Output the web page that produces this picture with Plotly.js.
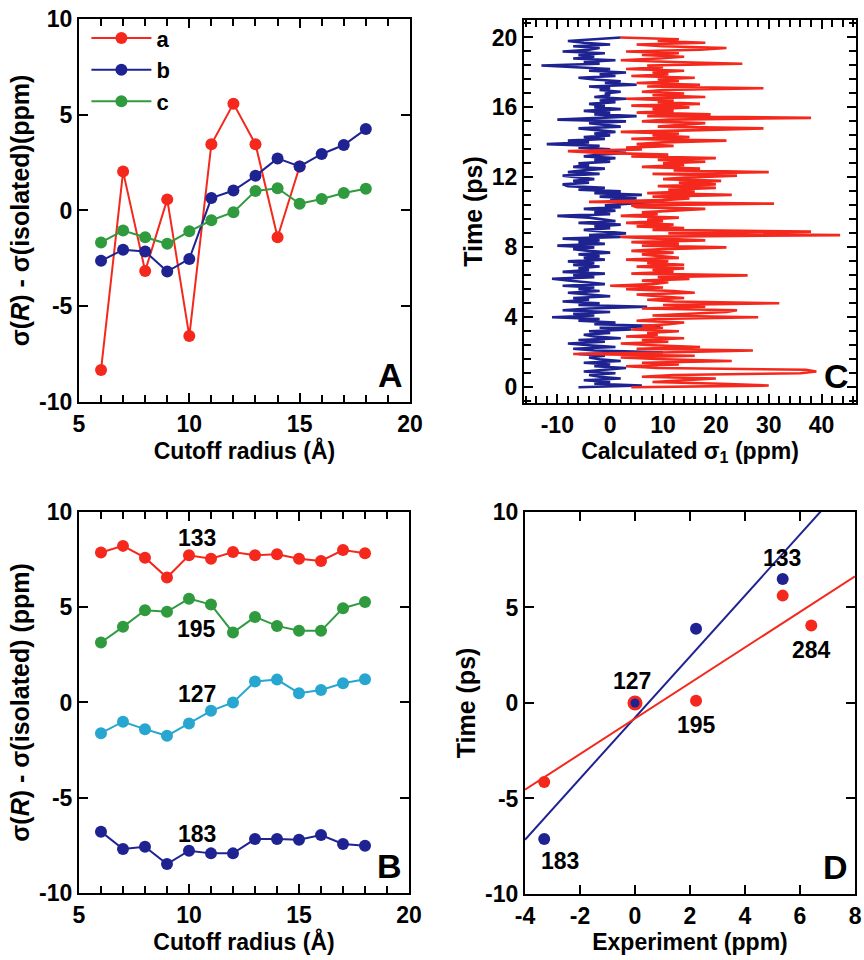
<!DOCTYPE html>
<html>
<head>
<meta charset="utf-8">
<script src="https://cdn.plot.ly/plotly-3.0.1.min.js"></script>
<style>html,body{margin:0;padding:0;background:#fff;}#chart{width:864px;height:960px;}</style>
</head>
<body>
<div id="chart"></div>
<script>
// ---------- Panel A ----------
var radiusA = [6,7,8,9,10,11,12,13,14,15,16,17,18];
var seriesA_a = [-8.33,2.03,-3.16,0.58,-6.56,3.46,5.58,3.46,-1.4,2.3];
var seriesA_b = [-2.63,-2.05,-2.14,-3.19,-2.53,0.65,1.04,1.81,2.72,2.3,2.95,3.42,4.25];
var seriesA_c = [-1.67,-1.05,-1.4,-1.74,-1.09,-0.51,-0.09,1.02,1.16,0.35,0.6,0.91,1.14];
var legendA = ['a','b','c'];

// ---------- Panel B ----------
var radiusB = [6,7,8,9,10,11,12,13,14,15,16,17,18];
var seriesB_133 = [7.87,8.22,7.6,6.56,7.73,7.55,7.9,7.73,7.78,7.55,7.43,8.0,7.83];
var seriesB_195 = [3.15,3.97,4.84,4.76,5.45,5.14,3.67,4.49,4.02,3.76,3.76,4.95,5.28];
var seriesB_127 = [-1.61,-1.01,-1.4,-1.75,-1.1,-0.44,0,1.1,1.2,0.49,0.66,1.01,1.22];
var seriesB_183 = [-6.78,-7.69,-7.57,-8.48,-7.78,-7.92,-7.92,-7.17,-7.17,-7.2,-6.96,-7.43,-7.52];
var labelsB = ['133','195','127','183'];
var labelsB_x = [10.35,10.35,10.35,10.35];
var labelsB_y = [8.65,3.85,0.44,-6.9];

// ---------- Panel C (time series, 0.1 ps steps) ----------
var timeC = [];
for (var i = 0; i <= 200; i++) timeC.push(+(i*0.1).toFixed(1));
var sigmaRed = [
 4,30,21,8,14,20,6,12,36,39,
 37,9,3,13,6,23,10,2,16,-7,
 12,27,5,17,8,2,11,6,14,3,
 9,7,13,4,10,6,11,14,5,9,
 28,8,15,22,24,6,18,10,32,12,
 7,14,9,5,16,12,3,10,0,8,
 11,6,15,9,26,4,12,8,14,5,
 14,7,11,3,13,9,6,12,4,10,
 22,6,13,4,18,9,2,43.5,11,38,
 8,14,5,12,3,10,7,13,2,9,
 6,12,18,5,4,31,-4,10,15,8,
 23,7,16,11,20,9,20,13,21,10,
 15,24,8,30,12,17,6,14,10,18,
 9,20,4,11,-2,-8,6,3,12,5,
 10,22,4,15,8,13,2,17,29,9,
 14,18,6,11,38,7,19,5,12,8,
 15,4,17,9,12,3,18,8,14,6,
 10,29,7,17,5,13,9,16,4,11,
 8,14,3,10,7,25,12,2,9,14,
 6,13,3,17,22,10,5,18,9,13,
 2];
var sigmaBlue = [
 -6,6,-3,0,-5,2,-2,-4,1,-5,
 -1,3,-3,0,-5,2,-2,-4,-1,-6,
 10,-3,-7,1,-4,-8,-1,-6,2,-3,
 -5,0,-4,4,-2,9.5,-3,1,-6,-2,
 -11,-3,-7,0,-9,-4,7,-6,-2,-9,
 -4,-7,0,-5,-8,-2,-6,-3,-9,-1,
 -5,-8,-11,-3,-7,-1,-9,-4,-6,-2,
 -7,-3,-8,-1,-5,-2,-6,0,-4,-7,
 -3,-10,-1,-6,-2,-9,2,-4,3,-1,
 -5,0,-3,2,-6,1,-2,-4,-10,0,
 -3,1,-5,2,-1,4,8,0,5,-2,
 6,-3,2,-6,-1,-8,-9,-4,-7,-3,
 -6,-9,-2,-8,-5,-1,-7,-4,-6,0,
 -3,1,-5,-2,3,-4,0,-6,-2,-12,
 -4,-8,-1,-5,0,-3,1,-2,-6,2,
 -1,-4,3,-10,-2,5,-3,0,-5,2,
 -3,-1,-4,1,-2,3,-3,0,-1,2,
 -2,0,-4,5,-1,2,-3,-6,1,-2,
 3,-4,0,-8,-13,-2,-5,1,-7,-3,
 -6,-1,-9,-4,-2,-7,0,-5,-8,-3,
 2];

// ---------- Panel D ----------
var expBlue = [-3.3,0,2.22,5.37];
var calcBlue = [-7.12,0,3.89,6.49];
var expRed = [-3.3,0,2.22,5.37,6.41];
var calcRed = [-4.14,0,0.12,5.62,4.05];
var fitX = [-4,8];
var fitBlue = [-7.16,12.02];
var fitRed = [-4.54,6.63];
var labelsD = ['133','284','127','195','183'];
var labelsD_x = [5.34,6.41,-0.12,2.22,-2.73];
var labelsD_y = [7.6,2.76,1.13,-1.13,-8.29];

var panelLetters = ['A','B','C','D'];

// ---------- tick labels (plain hyphen minus as in the figure) ----------
var ticksRadius = [5,10,15,20];
var ticksRadiusText = ['5','10','15','20'];
var ticksDelta = [-10,-5,0,5,10];
var ticksDeltaText = ['-10','-5','0','5','10'];
var ticksSigma = [-10,0,10,20,30,40];
var ticksSigmaText = ['-10','0','10','20','30','40'];
var ticksTime = [0,4,8,12,16,20];
var ticksTimeText = ['0','4','8','12','16','20'];
var ticksExp = [-4,-2,0,2,4,6,8];
var ticksExpText = ['-4','-2','0','2','4','6','8'];

// ---------- styles ----------
var RED = '#f4281c', BLUE = '#1e2391', GREEN = '#2f9a3e', CYAN = '#27a6cf';
var FONT = 'Liberation Sans, Arial, Helvetica, sans-serif';
var tickFont = {family: FONT, size: 23, color: '#000', weight: 'bold'};
var xTitleFont = {family: FONT, size: 23, color: '#000', weight: 'bold'};
var yTitleFont = {family: FONT, size: 25, color: '#000', weight: 'bold'};
var labelFont = {family: FONT, size: 23, color: '#000', weight: 'bold'};
var minorTicks = function(d) { return {dtick: d, ticklen: 7, tickwidth: 2, ticks: 'inside', tickcolor: '#000'}; };

function axis(opts) {
  var a = {
    showline: true, linecolor: '#000', linewidth: 2, mirror: 'ticks',
    ticks: 'inside', ticklen: 9, tickwidth: 2, tickcolor: '#000',
    showgrid: false, zeroline: false, tickfont: tickFont,
    fixedrange: true, tickmode: 'array'
  };
  for (var k in opts) a[k] = opts[k];
  return a;
}
// opposite-side axes that repeat the minor ticks (top / right frame)
function mirrorAxis(opts) {
  var a = {
    showline: false, ticks: 'inside', ticklen: 9, tickwidth: 2, tickcolor: '#000',
    showgrid: false, zeroline: false, showticklabels: false, fixedrange: true
  };
  for (var k in opts) a[k] = opts[k];
  return a;
}

var lineMk = function(color, showleg, name, x, y, xa, ya) {
  return {x: x, y: y, xaxis: xa, yaxis: ya, type: 'scatter', mode: 'lines+markers', name: name,
    showlegend: showleg, line: {color: color, width: 2},
    marker: {color: color, size: 12, opacity: 1, line: {width: 0}}};
};

var traces = [
  lineMk(RED, true, legendA[0], radiusA.slice(0, seriesA_a.length), seriesA_a, 'x', 'y'),
  lineMk(BLUE, true, legendA[1], radiusA, seriesA_b, 'x', 'y'),
  lineMk(GREEN, true, legendA[2], radiusA, seriesA_c, 'x', 'y'),
  lineMk(RED, false, '133', radiusB, seriesB_133, 'x3', 'y3'),
  lineMk(GREEN, false, '195', radiusB, seriesB_195, 'x3', 'y3'),
  lineMk(CYAN, false, '127', radiusB, seriesB_127, 'x3', 'y3'),
  lineMk(BLUE, false, '183', radiusB, seriesB_183, 'x3', 'y3'),
  {x: sigmaBlue, y: timeC, xaxis: 'x2', yaxis: 'y2', type: 'scatter', mode: 'lines', showlegend: false,
    line: {color: BLUE, width: 2.6}},
  {x: sigmaRed, y: timeC, xaxis: 'x2', yaxis: 'y2', type: 'scatter', mode: 'lines', showlegend: false,
    line: {color: RED, width: 2.6}},
  {x: fitX, y: fitBlue, xaxis: 'x4', yaxis: 'y4', type: 'scatter', mode: 'lines', showlegend: false,
    line: {color: BLUE, width: 2}},
  {x: fitX, y: fitRed, xaxis: 'x4', yaxis: 'y4', type: 'scatter', mode: 'lines', showlegend: false,
    line: {color: RED, width: 2}},
  {x: expRed, y: calcRed, xaxis: 'x4', yaxis: 'y4', type: 'scatter', mode: 'markers', showlegend: false,
    marker: {color: RED, size: [12, 15, 12, 12, 12], opacity: 1, line: {width: 0}}, cliponaxis: false},
  {x: expBlue, y: calcBlue, xaxis: 'x4', yaxis: 'y4', type: 'scatter', mode: 'markers', showlegend: false,
    marker: {color: BLUE, size: [12, 9, 12, 12], opacity: 1, line: {width: 0}}, cliponaxis: false}
];

var annotations = [];
labelsB.forEach(function(t, i) {
  annotations.push({text: t, x: labelsB_x[i], y: labelsB_y[i], xref: 'x3', yref: 'y3', showarrow: false,
    font: labelFont});
});
labelsD.forEach(function(t, i) {
  annotations.push({text: t, x: labelsD_x[i], y: labelsD_y[i], xref: 'x4', yref: 'y4', showarrow: false,
    font: labelFont});
});
var letterAxes = [['x','y'],['x3','y3'],['x2','y2'],['x4','y4']];
panelLetters.forEach(function(t, i) {
  annotations.push({text: t, x: 0.985, y: 0.015, xref: letterAxes[i][0] + ' domain', yref: letterAxes[i][1] + ' domain',
    xanchor: 'right', yanchor: 'bottom', showarrow: false,
    font: {family: FONT, size: 34, color: '#000', weight: 'bold'}});
});

var layout = {
  width: 864, height: 960,
  margin: {l: 0, r: 0, t: 0, b: 0},
  paper_bgcolor: '#fff', plot_bgcolor: '#fff',
  showlegend: true,
  legend: {x: 0.1, y: 0.982, xanchor: 'left', yanchor: 'top', bgcolor: 'rgba(0,0,0,0)',
    font: {family: FONT, size: 22, color: '#000', weight: 'bold'}, itemwidth: 60, tracegroupgap: 0},
  xaxis: axis({domain: [0.0914, 0.4745], anchor: 'y', range: [5, 20], tickvals: ticksRadius, ticktext: ticksRadiusText,
    minor: minorTicks(1),
    title: {text: 'Cutoff radius (Å)', font: xTitleFont, standoff: 4}}),
  yaxis: axis({domain: [0.5813, 0.9802], anchor: 'x', range: [-10, 10], tickvals: ticksDelta, ticktext: ticksDeltaText,
    title: {text: 'σ(<i>R</i>) - σ(isolated)(ppm)', font: yTitleFont, standoff: 2}}),
  xaxis2: axis({domain: [0.6065, 0.9907], anchor: 'y2', range: [-16.3, 46.5], tickvals: ticksSigma, ticktext: ticksSigmaText,
    minor: minorTicks(2),
    title: {text: 'Calculated σ<sub>1</sub> (ppm)', font: xTitleFont, standoff: 4}}),
  yaxis2: axis({domain: [0.5802, 0.9792], anchor: 'x2', range: [-0.9, 21], tickvals: ticksTime, ticktext: ticksTimeText,
    minor: minorTicks(0.8),
    title: {text: 'Time (ps)', font: yTitleFont, standoff: 2}}),
  xaxis3: axis({domain: [0.0914, 0.4734], anchor: 'y3', range: [5, 20], tickvals: ticksRadius, ticktext: ticksRadiusText,
    minor: minorTicks(1),
    title: {text: 'Cutoff radius (Å)', font: xTitleFont, standoff: 4}}),
  yaxis3: axis({domain: [0.0698, 0.4667], anchor: 'x3', range: [-10, 10], tickvals: ticksDelta, ticktext: ticksDeltaText,
    title: {text: 'σ(<i>R</i>) - σ(isolated) (ppm)', font: yTitleFont, standoff: 2}}),
  xaxis4: axis({domain: [0.6076, 0.9896], anchor: 'y4', range: [-4, 8], tickvals: ticksExp, ticktext: ticksExpText,
    title: {text: 'Experiment (ppm)', font: xTitleFont, standoff: 4}}),
  yaxis4: axis({domain: [0.0688, 0.4667], anchor: 'x4', range: [-10, 10], tickvals: ticksDelta, ticktext: ticksDeltaText,
    title: {text: 'Time (ps)', font: yTitleFont, standoff: 2}}),
  // top / right frames carrying the minor ticks
  xaxis5: mirrorAxis({overlaying: 'x', anchor: 'y', side: 'top', range: [5, 20], tickmode: 'array', tickvals: ticksRadius, minor: minorTicks(1)}),
  xaxis6: mirrorAxis({overlaying: 'x2', anchor: 'y2', side: 'top', range: [-16.3, 46.5], tickmode: 'array', tickvals: ticksSigma, minor: minorTicks(2)}),
  yaxis5: mirrorAxis({overlaying: 'y2', anchor: 'x2', side: 'right', range: [-0.9, 21], tickmode: 'array', tickvals: ticksTime, minor: minorTicks(0.8)}),
  xaxis7: mirrorAxis({overlaying: 'x3', anchor: 'y3', side: 'top', range: [5, 20], tickmode: 'array', tickvals: ticksRadius, minor: minorTicks(1)}),
  annotations: annotations
};

Plotly.newPlot('chart', traces, layout, {staticPlot: true, displayModeBar: false});
</script>
</body>
</html>
